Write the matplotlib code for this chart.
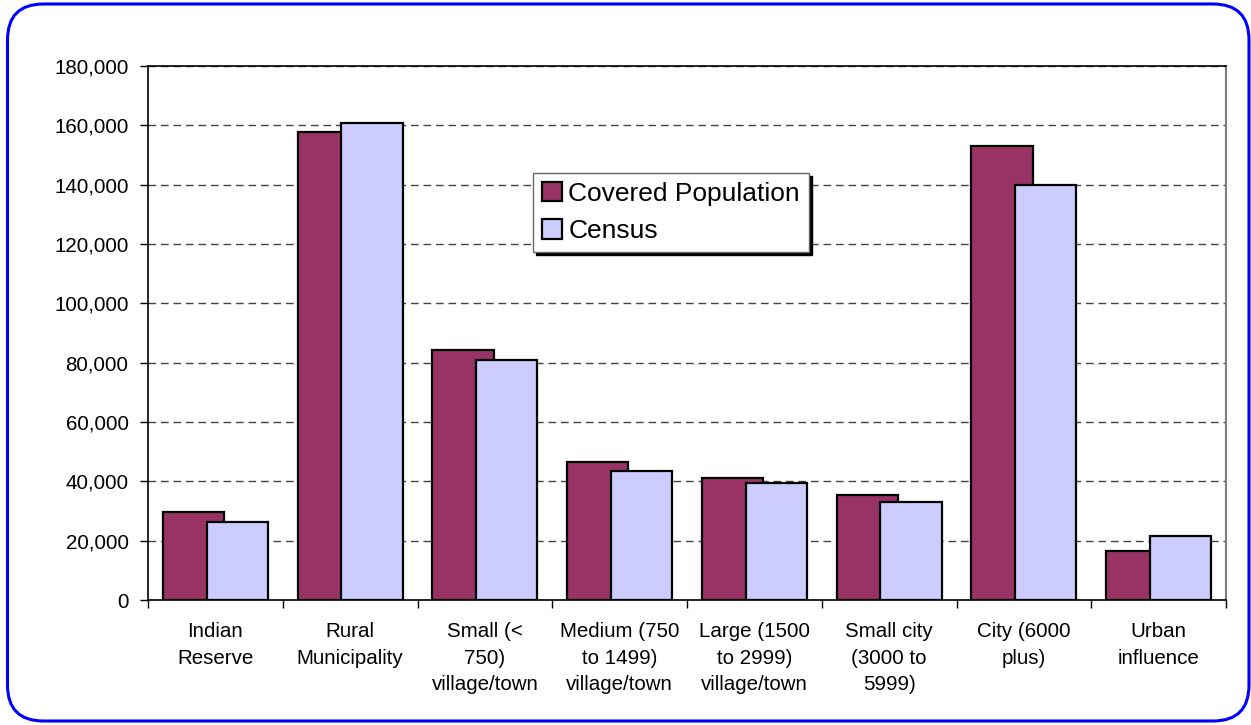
import matplotlib.pyplot as plt
import numpy as np
from matplotlib.patches import FancyBboxPatch
from matplotlib.ticker import FuncFormatter, MultipleLocator, FixedLocator

categories = ['Indian\nReserve', 'Rural\nMunicipality', 'Small (<\n750)\nvillage/town',
              'Medium (750\nto 1499)\nvillage/town', 'Large (1500\nto 2999)\nvillage/town',
              'Small city\n(3000 to\n5999)', 'City (6000\nplus)', 'Urban\ninfluence']
covered = [29500, 157700, 84300, 46400, 41200, 35400, 153000, 16600]
census = [26400, 160900, 80900, 43500, 39300, 33100, 139900, 21500]

plt.rcParams['font.family'] = ['Liberation Sans', 'DejaVu Sans']

fig = plt.figure(figsize=(12.51, 7.25), dpi=100)

# rounded blue frame round the whole chart, drawn in pixel units
bg = fig.add_axes([0, 0, 1, 1], zorder=-1)
bg.set_xlim(0, 1251)
bg.set_ylim(0, 725)
bg.axis('off')
bg.add_patch(FancyBboxPatch((7.5, 4), 1241.5, 717, boxstyle='round,pad=0,rounding_size=36',
                            fc='white', ec='#0000ff', lw=2.2))

ax = fig.add_axes([148 / 1251, 1 - 600 / 725, 1078 / 1251, 534 / 725])
ax.set_facecolor('none')

x = np.arange(len(categories))
w = 0.455
ax.bar(x - 0.163, covered, w, color='#993366', edgecolor='black', lw=1.6, zorder=3,
       label='Covered Population')
ax.bar(x + 0.163, census, w, color='#ccccff', edgecolor='black', lw=1.6, zorder=4,
       label='Census')

ax.set_xlim(-0.5, len(categories) - 0.5)
ax.set_ylim(0, 180000)
ax.yaxis.set_major_locator(MultipleLocator(20000))
ax.yaxis.set_major_formatter(FuncFormatter(lambda v, p: f'{int(v):,}'))
ax.grid(axis='y', color='#444444', ls=(0, (5.5, 3.5)), lw=1.0, zorder=1)

ax.xaxis.set_major_locator(FixedLocator(np.arange(len(categories) + 1) - 0.5))
ax.xaxis.set_minor_locator(FixedLocator(x))
ax.set_xticklabels([])
ax.set_xticklabels(categories, minor=True)
ax.tick_params(axis='x', which='major', length=6, width=1, direction='out')
ax.tick_params(axis='x', which='minor', length=0, pad=16, labelsize=14.8)
ax.tick_params(axis='y', length=6, width=1, direction='out', labelsize=14.8, pad=8)
for t in ax.xaxis.get_minor_ticks():
    t.label1.set_verticalalignment('top')
    t.label1.set_linespacing(1.5)

for s in ['left', 'bottom', 'top']:
    ax.spines[s].set_color('black')
    ax.spines[s].set_linewidth(1.2)
ax.spines['right'].set_color('#808080')
ax.spines['right'].set_linewidth(1.5)

leg = ax.legend(loc='upper left', bbox_to_anchor=(0.357, 0.80), borderaxespad=0,
                fontsize=19, fancybox=False, edgecolor='#666666', framealpha=1,
                shadow={'color': 'black', 'alpha': 1}, handlelength=0.75, handleheight=0.75,
                handletextpad=0.25, borderpad=0.35, labelspacing=0.5)
leg.get_frame().set_linewidth(1.0)
leg.set_zorder(10)

fig.savefig('out.png', dpi=100)
